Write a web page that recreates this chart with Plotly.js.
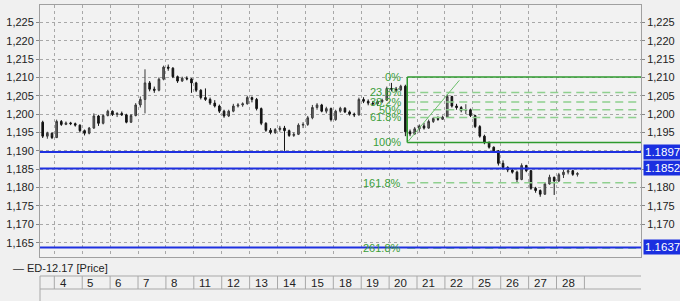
<!DOCTYPE html>
<html><head><meta charset="utf-8">
<script src="https://cdn.plot.ly/plotly-3.0.1.min.js"></script>
<style>html,body{margin:0;padding:0;background:#f0f0f0;overflow:hidden;} #chart{width:680px;height:301px;}</style>
</head><body><div id="chart"></div>
<script>
// ---------- data ----------
const seriesName = 'ED-12.17 [Price]';
const dayLabels = ['4','5','6','7','8','11','12','13','14','15','18','19','20','21','22','25','26','27','28'];

const openP = [1.1978,1.1940,1.1948,1.1936,1.1980,1.1972,1.1976,1.1974,1.1970,1.1955,
1.1948,1.1962,1.1995,1.1975,1.1996,1.2008,1.1999,1.2002,1.1998,1.1978,
1.1996,1.2025,1.2040,1.2085,1.2068,1.2065,1.2095,1.2128,1.2125,1.2102,
1.2090,1.2098,1.2096,1.2085,1.2065,1.2045,1.2040,1.2030,1.2022,1.2008,
1.1995,1.2008,1.2022,1.2025,1.2028,1.2045,1.2040,1.2015,1.1975,1.1956,
1.1950,1.1958,1.1962,1.1955,1.1942,1.1945,1.1970,1.1972,1.1990,1.2018,
1.2025,1.2008,1.2015,1.1985,1.2008,1.2016,1.2006,1.2000,1.1998,1.2040,
1.2035,1.2030,1.2028,1.2034,1.2038,1.2070,1.2068,1.2066,1.2076,1.1952,
1.1946,1.1960,1.1968,1.1962,1.1980,1.1988,1.1986,1.1992,1.2048,1.2022,
1.2018,1.2010,1.2012,1.1996,1.1966,1.1940,1.1922,1.1910,1.1900,1.1866,
1.1855,1.1848,1.1842,1.1822,1.1860,1.1846,1.1798,1.1792,1.1782,1.1810,
1.1828,1.1818,1.1835,1.1842,1.1846,1.1836];
const highP = [1.1982,1.1952,1.1950,1.1985,1.1984,1.1980,1.1979,1.1977,1.1972,1.1958,
1.1965,1.2002,1.1998,1.2000,1.2012,1.2010,1.2005,1.2007,1.2001,1.2000,
1.2030,1.2048,1.2122,1.2090,1.2075,1.2100,1.2132,1.2135,1.2128,1.2105,
1.2102,1.2103,1.2098,1.2088,1.2068,1.2070,1.2045,1.2038,1.2026,1.2012,
1.2012,1.2028,1.2030,1.2032,1.2050,1.2048,1.2044,1.2018,1.1978,1.1962,
1.1962,1.1968,1.1968,1.1958,1.1950,1.1975,1.1978,1.1995,1.2025,1.2030,
1.2028,1.2020,1.2018,1.2012,1.2020,1.2019,1.2010,1.2004,1.2045,1.2046,
1.2040,1.2036,1.2038,1.2042,1.2075,1.2085,1.2074,1.2080,1.2080,1.1958,
1.1965,1.1972,1.1976,1.1985,1.1992,1.1994,1.1996,1.2054,1.2050,1.2028,
1.2022,1.2027,1.2015,1.1998,1.1970,1.1944,1.1926,1.1912,1.1902,1.1874,
1.1858,1.1852,1.1846,1.1866,1.1862,1.1848,1.1802,1.1795,1.1815,1.1835,
1.1830,1.1840,1.1848,1.1850,1.1848,1.1842];
const lowP = [1.1935,1.1933,1.1932,1.1935,1.1968,1.1970,1.1970,1.1966,1.1950,1.1942,
1.1945,1.1960,1.1968,1.1972,1.1994,1.1995,1.1992,1.1995,1.1975,1.1976,
1.1994,1.2018,1.2002,1.2062,1.2058,1.2062,1.2092,1.2118,1.2098,1.2085,
1.2088,1.2092,1.2058,1.2060,1.2040,1.2036,1.2025,1.2018,1.2003,1.1990,
1.1992,1.2005,1.2018,1.2020,1.2026,1.2032,1.2010,1.1970,1.1952,1.1945,
1.1946,1.1952,1.1900,1.1938,1.1938,1.1943,1.1962,1.1968,1.1986,1.2012,
1.2005,1.2002,1.1980,1.1982,1.2004,1.2003,1.1996,1.1992,1.1996,1.2030,
1.2024,1.2024,1.2022,1.2030,1.2036,1.2062,1.2060,1.2062,1.1940,1.1940,
1.1944,1.1952,1.1958,1.1960,1.1976,1.1982,1.1984,1.1990,1.2018,1.2012,
1.2005,1.2000,1.1992,1.1962,1.1936,1.1918,1.1906,1.1895,1.1860,1.1850,
1.1842,1.1838,1.1815,1.1820,1.1842,1.1794,1.1786,1.1775,1.1780,1.1808,
1.1780,1.1815,1.1826,1.1836,1.1832,1.1830];
const closeP = [1.1940,1.1948,1.1936,1.1980,1.1972,1.1976,1.1974,1.1970,1.1955,1.1948,
1.1962,1.1995,1.1975,1.1996,1.2008,1.1999,1.2002,1.1998,1.1978,1.1996,
1.2025,1.2040,1.2085,1.2068,1.2065,1.2095,1.2128,1.2125,1.2102,1.2090,
1.2098,1.2096,1.2085,1.2065,1.2045,1.2040,1.2030,1.2022,1.2008,1.1995,
1.2008,1.2022,1.2025,1.2028,1.2045,1.2040,1.2015,1.1975,1.1956,1.1950,
1.1958,1.1962,1.1955,1.1942,1.1945,1.1970,1.1972,1.1990,1.2018,1.2025,
1.2008,1.2015,1.1985,1.2008,1.2016,1.2006,1.2000,1.1998,1.2040,1.2035,
1.2030,1.2028,1.2034,1.2038,1.2070,1.2068,1.2066,1.2076,1.1952,1.1946,
1.1960,1.1968,1.1962,1.1980,1.1988,1.1986,1.1992,1.2048,1.2022,1.2018,
1.2010,1.2012,1.1996,1.1966,1.1940,1.1922,1.1910,1.1900,1.1866,1.1855,
1.1848,1.1842,1.1822,1.1860,1.1846,1.1798,1.1792,1.1782,1.1810,1.1828,
1.1818,1.1835,1.1842,1.1846,1.1836,1.1838];

const levelLines  = [1.1897, 1.1852, 1.1637];
const levelLabels = ['1.1897', '1.1852', '1.1637'];

const fibHigh = 1.2101, fibLow = 1.1923;
const fibRatios = [0, 0.236, 0.382, 0.5, 0.618, 1, 1.618, 2.618];
const fibLabels = ['0%', '23.6%', '38.2%', '50%', '61.8%', '100%', '161.8%', '261.8%'];

// right-axis ticks (those hidden behind the level boxes are left out)
const rightTicks = [1.170, 1.175, 1.180, 1.185, 1.195, 1.200, 1.205, 1.210, 1.215, 1.220, 1.225];

// ---------- layout helpers ----------
const SLOTS_PER_DAY = 6;      // bars per trading day
const FIRST_DAY_START = 2.5;  // slot coordinate where day "4" begins
const xRange = [-0.58, 128.67];
const yRange = [1.16110, 1.22971];
const fibX0 = 78.4;           // slot where the Fibonacci swing starts
const fibDiagEnd = [89.6, 1.2092];

const xIdx = closeP.map((_, i) => i);
const dayStarts = dayLabels.map((_, k) => FIRST_DAY_START + SLOTS_PER_DAY * k);
const FONT = 'Liberation Sans, Arial, sans-serif';

const traces = [{
  type: 'candlestick', x: xIdx, open: openP, high: highP, low: lowP, close: closeP,
  increasing: {line: {color: '#3a3a3a', width: 1}, fillcolor: '#6a6a6a'},
  decreasing: {line: {color: '#141414', width: 1}, fillcolor: '#141414'},
  whiskerwidth: 0, hoverinfo: 'skip', showlegend: false
}, {
  type: 'scatter', mode: 'markers', x: [xIdx[0]], y: [closeP[0]], yaxis: 'y2',
  marker: {opacity: 0}, hoverinfo: 'skip', showlegend: false
}];

const shapes = [];
const annotations = [];
const fibGreen = '#2e9a2e', fibLight = '#8fd08f', fibText = '#3a9e3a';
const D = fibHigh - fibLow;
fibRatios.forEach((r, i) => {
  const y = fibHigh - r * D;
  const solid = (r === 0 || r === 1);
  shapes.push({type: 'line', xref: 'x', yref: 'y', x0: fibX0, x1: xRange[1], y0: y, y1: y,
    line: solid ? {color: fibGreen, width: 1.5} : {color: fibLight, width: 1.5, dash: '8px,5px'}});
  annotations.push({xref: 'x', yref: 'y', x: fibX0 - 0.9, y: y, xanchor: 'right', yanchor: 'middle',
    text: fibLabels[i], showarrow: false, font: {family: FONT, size: 11, color: fibText}});
});
shapes.push({type: 'line', xref: 'x', yref: 'y', x0: fibX0, x1: fibX0, y0: fibLow, y1: fibHigh,
  line: {color: fibGreen, width: 1.5}});
shapes.push({type: 'line', xref: 'x', yref: 'y', x0: fibX0 + 0.2, x1: fibDiagEnd[0], y0: fibLow + 0.0003, y1: fibDiagEnd[1],
  line: {color: '#6cbf6c', width: 1}});

levelLines.forEach((v, i) => {
  shapes.push({type: 'line', xref: 'paper', yref: 'y', x0: 0, x1: 1, y0: v, y1: v,
    line: {color: '#1e30e0', width: 2}});
  annotations.push({xref: 'paper', yref: 'y', x: 1, xshift: 2, y: v, xanchor: 'left', yanchor: 'middle',
    text: levelLabels[i] + '&nbsp;', showarrow: false, bgcolor: '#1a2fe0', borderpad: 1,
    font: {family: FONT, size: 11.5, color: '#ffffff'}});
});

// table below the chart
const PH = 252; // plot height in px
const py = px => (257 - px) / PH;
const pxX = px => (px - 40) / 601;
shapes.push({type: 'line', xref: 'paper', yref: 'paper', x0: 0, x1: 1, y0: py(276), y1: py(276), line: {color: '#a8a8a8', width: 1}});
shapes.push({type: 'line', xref: 'paper', yref: 'paper', x0: 0, x1: 1, y0: py(289), y1: py(289), line: {color: '#a8a8a8', width: 1}});
shapes.push({type: 'line', xref: 'paper', yref: 'paper', x0: 0, x1: 0, y0: py(276), y1: py(302), line: {color: '#a8a8a8', width: 1}});
dayStarts.concat([FIRST_DAY_START + SLOTS_PER_DAY * dayLabels.length]).forEach(x => {
  shapes.push({type: 'line', xref: 'x', yref: 'paper', x0: x, x1: x, y0: py(276), y1: py(289), line: {color: '#a8a8a8', width: 1}});
});
dayLabels.forEach((d, k) => {
  annotations.push({xref: 'x', yref: 'paper', x: dayStarts[k] + 0.7, y: py(283), xanchor: 'left', yanchor: 'middle',
    text: d, showarrow: false, font: {family: FONT, size: 11.5, color: '#222'}});
});
annotations.push({xref: 'paper', yref: 'paper', x: pxX(11), y: py(268), xanchor: 'left', yanchor: 'middle',
  text: '—', showarrow: false, font: {family: FONT, size: 11, color: '#333'}});
annotations.push({xref: 'paper', yref: 'paper', x: pxX(25), y: py(268), xanchor: 'left', yanchor: 'middle',
  text: seriesName, showarrow: false, font: {family: FONT, size: 11, color: '#222'}});

const yCommon = {
  range: yRange, tickformat: '.3f',
  ticks: 'outside', ticklen: 3, tickcolor: '#888', zeroline: false,
  tickfont: {family: FONT, size: 11, color: '#222'}, fixedrange: true
};

const layout = {
  width: 680, height: 301,
  margin: {l: 40, r: 39, t: 5, b: 44, pad: 0},
  paper_bgcolor: '#f0f0f0', plot_bgcolor: '#f2f2f2',
  separators: ',.',
  showlegend: false,
  boxgap: 0.5,
  font: {family: FONT, size: 11, color: '#222'},
  xaxis: {
    range: xRange, showticklabels: false, tickmode: 'array', tickvals: dayStarts, ticks: '',
    showgrid: true, gridcolor: '#a8a8a8', griddash: 'dot', gridwidth: 1, zeroline: false,
    showline: true, linecolor: '#a0a0a0', mirror: true, rangeslider: {visible: false}, fixedrange: true
  },
  yaxis: Object.assign({}, yCommon, {
    tickmode: 'linear', tick0: 1.165, dtick: 0.005,
    showgrid: true, gridcolor: '#a8a8a8', griddash: 'dot', gridwidth: 1,
    showline: true, linecolor: '#a0a0a0', mirror: true
  }),
  yaxis2: Object.assign({}, yCommon, {overlaying: 'y', side: 'right', showgrid: false, showline: false,
    tickmode: 'array', tickvals: rightTicks}),
  shapes: shapes,
  annotations: annotations
};

Plotly.newPlot('chart', traces, layout, {staticPlot: true, displayModeBar: false});
</script>
</body></html>
